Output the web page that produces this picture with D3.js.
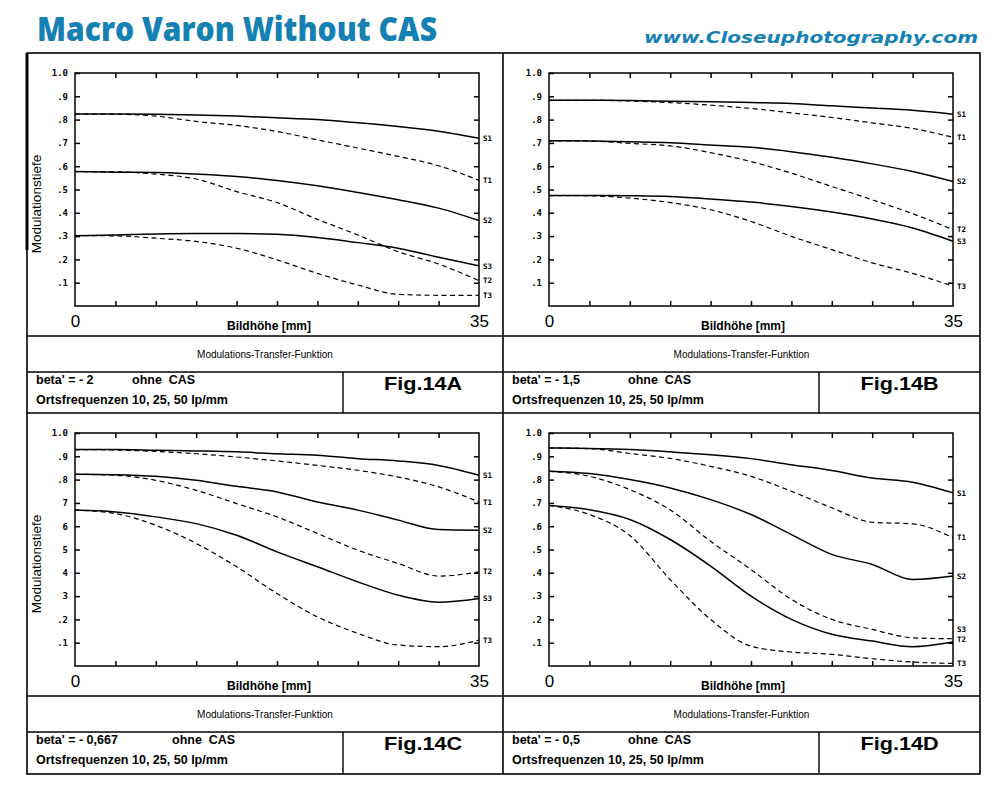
<!DOCTYPE html>
<html>
<head>
<meta charset="utf-8">
<script src="https://cdn.jsdelivr.net/npm/d3@7"></script>
<style>
body { margin: 0; background: #fff; }
svg text { font-family: "Liberation Sans", Arial, sans-serif; fill: #000; }
</style>
</head>
<body>
<svg id="chart" width="1000" height="790"></svg>
<script>
// image height in mm, one reading every 3.5 mm
var distances = [0, 3.5, 7, 10.5, 14, 17.5, 21, 24.5, 28, 31.5, 35];
var seriesNames = ["S1", "T1", "S2", "T2", "S3", "T3"];
var figNames = ["Fig.14A", "Fig.14B", "Fig.14C", "Fig.14D"];
var betaTexts = ["beta' = - 2", "beta' = - 1,5", "beta' = - 0,667", "beta' = - 0,5"];
var casText = "ohne  CAS";
var freqText = "Ortsfrequenzen 10, 25, 50 lp/mm";
var yTickValues = [1.0, 0.9, 0.8, 0.7, 0.6, 0.5, 0.4, 0.3, 0.2, 0.1];
var yTickLabelsA = ["1.0", ".9", ".8", ".7", ".6", ".5", ".4", ".3", ".2", ".1"];
var yTickLabelsB = ["1.0", ".9", ".8", ".7", ".6", ".5", ".4", ".3", ".2", ".1"];
var yTickLabelsC = ["1.0", ".9", ".8", "7", "6", "5", "4", "3", ".2", ".1"];
var yTickLabelsD = ["1.0", ".9", ".8", ".7", ".6", ".5", ".4", ".3", ".2", ".1"];

// rows in order S1, T1, S2, T2, S3, T3
var mtf14A = [
	[0.824, 0.824, 0.823, 0.820, 0.815, 0.808, 0.800, 0.786, 0.770, 0.750, 0.720],
	[0.824, 0.823, 0.815, 0.792, 0.775, 0.749, 0.713, 0.678, 0.642, 0.602, 0.539],
	[0.577, 0.574, 0.573, 0.566, 0.556, 0.539, 0.516, 0.487, 0.456, 0.420, 0.367],
	[0.577, 0.576, 0.566, 0.545, 0.491, 0.444, 0.372, 0.305, 0.233, 0.180, 0.109],
	[0.302, 0.305, 0.309, 0.311, 0.311, 0.308, 0.294, 0.272, 0.248, 0.209, 0.172],
	[0.302, 0.301, 0.291, 0.277, 0.248, 0.198, 0.140, 0.090, 0.050, 0.046, 0.046]
];
var mtf14B = [
	[0.883, 0.883, 0.882, 0.879, 0.877, 0.873, 0.869, 0.859, 0.850, 0.840, 0.823],
	[0.883, 0.883, 0.880, 0.873, 0.862, 0.848, 0.829, 0.809, 0.786, 0.762, 0.724],
	[0.709, 0.708, 0.705, 0.701, 0.691, 0.681, 0.662, 0.638, 0.610, 0.577, 0.534],
	[0.709, 0.708, 0.698, 0.687, 0.658, 0.620, 0.570, 0.513, 0.456, 0.396, 0.328],
	[0.474, 0.474, 0.473, 0.470, 0.459, 0.446, 0.427, 0.403, 0.373, 0.335, 0.278],
	[0.474, 0.473, 0.463, 0.444, 0.413, 0.363, 0.299, 0.242, 0.185, 0.140, 0.085]
];
var mtf14C = [
	[0.929, 0.929, 0.926, 0.923, 0.919, 0.911, 0.904, 0.890, 0.880, 0.861, 0.819],
	[0.929, 0.927, 0.921, 0.911, 0.897, 0.880, 0.861, 0.840, 0.811, 0.769, 0.704],
	[0.823, 0.821, 0.814, 0.797, 0.771, 0.747, 0.704, 0.669, 0.626, 0.586, 0.583],
	[0.823, 0.819, 0.797, 0.754, 0.697, 0.640, 0.569, 0.497, 0.440, 0.386, 0.404],
	[0.669, 0.661, 0.640, 0.611, 0.561, 0.490, 0.426, 0.361, 0.304, 0.274, 0.290],
	[0.669, 0.654, 0.604, 0.526, 0.426, 0.311, 0.211, 0.140, 0.090, 0.083, 0.111]
];
var mtf14D = [
	[0.936, 0.934, 0.929, 0.919, 0.907, 0.890, 0.864, 0.839, 0.807, 0.789, 0.743],
	[0.936, 0.933, 0.912, 0.891, 0.857, 0.814, 0.750, 0.679, 0.617, 0.610, 0.550],
	[0.836, 0.826, 0.800, 0.764, 0.714, 0.650, 0.564, 0.479, 0.436, 0.371, 0.386],
	[0.836, 0.814, 0.757, 0.670, 0.535, 0.414, 0.286, 0.200, 0.157, 0.121, 0.117],
	[0.689, 0.671, 0.629, 0.543, 0.429, 0.300, 0.200, 0.136, 0.107, 0.083, 0.103],
	[0.689, 0.650, 0.560, 0.371, 0.200, 0.085, 0.060, 0.050, 0.031, 0.017, 0.011]
];

var panelData = [mtf14A, mtf14B, mtf14C, mtf14D];
var panelTicks = [yTickLabelsA, yTickLabelsB, yTickLabelsC, yTickLabelsD];

// layout
var panelX = [27, 503, 27, 503];
var panelY = [53, 53, 413, 413];
var panelW = [476, 477, 476, 477];
var casX = [105, 125, 145, 125];
var blue = "#1580b2";

var svg = d3.select("#chart");

svg.append("text")
	.attr("x", 37).attr("y", 41)
	.attr("textLength", 400).attr("lengthAdjust", "spacingAndGlyphs")
	.style("font-family", "'Open Sans', sans-serif")
	.style("font-weight", "800").style("font-size", "33px")
	.style("fill", blue)
	.text("Macro Varon Without CAS");

svg.append("text")
	.attr("x", 644).attr("y", 43)
	.attr("textLength", 334).attr("lengthAdjust", "spacingAndGlyphs")
	.style("font-family", "'DejaVu Sans', sans-serif")
	.style("font-weight", "700").style("font-style", "italic").style("font-size", "15px")
	.style("fill", blue)
	.text("www.Closeuphotography.com");

// outer grid of the four figures
svg.append("rect")
	.attr("x", 27).attr("y", 53).attr("width", 953).attr("height", 721)
	.attr("fill", "none").attr("stroke", "#000").attr("stroke-width", 1.6);
svg.append("line").attr("x1", 27).attr("x2", 27).attr("y1", 53).attr("y2", 250)
	.attr("stroke", "#000").attr("stroke-width", 3);
svg.append("line").attr("x1", 503).attr("x2", 503).attr("y1", 53).attr("y2", 774)
	.attr("stroke", "#000").attr("stroke-width", 1.6);
svg.append("line").attr("x1", 27).attr("x2", 980).attr("y1", 413).attr("y2", 413)
	.attr("stroke", "#000").attr("stroke-width", 1.6);

function drawPanel(i){
	var px = panelX[i], py = panelY[i], pw = panelW[i];
	var left = i % 2 == 0 ? px + 48 : px + 46;
	var right = left + 404;
	var top = py + 20, bottom = py + 253;

	var x = d3.scaleLinear().domain([0, 35]).range([left, right]);
	var y = d3.scaleLinear().domain([0, 1]).range([bottom, top]);
	var g = svg.append("g");

	// table rows below the plot
	g.append("line").attr("x1", px).attr("x2", px + pw).attr("y1", py + 283).attr("y2", py + 283)
		.attr("stroke", "#000").attr("stroke-width", 1.4);
	g.append("line").attr("x1", px).attr("x2", px + pw).attr("y1", py + 319).attr("y2", py + 319)
		.attr("stroke", "#000").attr("stroke-width", 1.4);
	g.append("line").attr("x1", px + 316).attr("x2", px + 316).attr("y1", py + 319).attr("y2", py + 360)
		.attr("stroke", "#000").attr("stroke-width", 1.4);

	g.append("text")
		.attr("x", px + pw / 2).attr("y", py + 305)
		.attr("text-anchor", "middle").style("font-size", "10px")
		.text("Modulations-Transfer-Funktion");
	g.append("text")
		.attr("x", px + 9).attr("y", py + 331)
		.style("font-size", "12.5px").style("font-weight", "700")
		.text(betaTexts[i]);
	g.append("text")
		.attr("x", px + casX[i]).attr("y", py + 331)
		.style("font-size", "12.5px").style("font-weight", "700")
		.style("white-space", "pre")
		.text(casText);
	g.append("text")
		.attr("x", px + 9).attr("y", py + 351)
		.attr("textLength", 192).attr("lengthAdjust", "spacingAndGlyphs")
		.style("font-size", "12.5px").style("font-weight", "700")
		.text(freqText);
	g.append("text")
		.attr("x", px + 316 + (pw - 316) / 2).attr("y", py + 337)
		.attr("text-anchor", "middle")
		.attr("textLength", 78).attr("lengthAdjust", "spacingAndGlyphs")
		.style("font-size", "18px").style("font-weight", "700")
		.text(figNames[i]);

	// inward ticks on all sides
	var xTicks = d3.range(1, 10).map(function(k){ return k * 3.5; });
	var tickers = [
		[d3.axisBottom(x).tickValues(xTicks), "translate(0," + bottom + ")"],
		[d3.axisTop(x).tickValues(xTicks), "translate(0," + top + ")"],
		[d3.axisRight(y).tickValues(yTickValues.slice(1)), "translate(" + right + ",0)"]
	];
	tickers.forEach(function(t){
		var a = g.append("g").attr("transform", t[1])
			.call(t[0].tickSize(-5).tickSizeOuter(0).tickFormat(""));
		a.select(".domain").remove();
		a.selectAll("line").attr("stroke", "#000").attr("stroke-width", 1.5);
	});

	var labels = panelTicks[i];
	var yAxis = g.append("g").attr("transform", "translate(" + left + ",0)")
		.call(d3.axisLeft(y).tickValues(yTickValues).tickSize(-5).tickSizeOuter(0).tickPadding(7)
			.tickFormat(function(d, k){ return labels[k]; }));
	yAxis.select(".domain").remove();
	yAxis.selectAll("line").attr("stroke", "#000").attr("stroke-width", 1.5);
	yAxis.selectAll("text")
		.attr("font-family", null)
		.style("font-family", "'DejaVu Sans Mono', monospace")
		.style("font-size", "9px").style("font-weight", "700");

	var xAxis = g.append("g").attr("transform", "translate(0," + bottom + ")")
		.call(d3.axisBottom(x).tickValues([0, 35]).tickSize(0).tickPadding(9));
	xAxis.select(".domain").remove();
	xAxis.selectAll("text").attr("font-family", null).style("font-size", "17px");

	g.append("rect")
		.attr("x", left).attr("y", top).attr("width", right - left).attr("height", bottom - top)
		.attr("fill", "none").attr("stroke", "#000").attr("stroke-width", 1.5);

	g.append("text")
		.attr("x", (left + right) / 2 - 8).attr("y", bottom + 24)
		.attr("text-anchor", "middle")
		.style("font-size", "12px").style("font-weight", "700")
		.text("Bildhöhe [mm]");

	if(i % 2 == 0){
		g.append("text")
			.attr("transform", "translate(" + (px + 14) + "," + (top + 131) + ") rotate(-90)")
			.attr("text-anchor", "middle")
			.style("font-size", "13.5px")
			.text("Modulationstiefe");
	}

	var line = d3.line()
		.x(function(d, k){ return x(distances[k]); })
		.y(function(d){ return y(d); })
		.curve(d3.curveMonotoneX);

	var data = panelData[i];
	for (var s = 0; s < data.length; s++) {
		var dashed = seriesNames[s].charAt(0) == "T";
		g.append("path")
			.datum(data[s])
			.attr("d", line)
			.attr("fill", "none")
			.attr("stroke", "#000")
			.attr("stroke-width", dashed ? 1.2 : 1.5)
			.attr("stroke-dasharray", dashed ? "5,3.5" : null);

		// in Fig.14D the S3 and T2 ends meet; stack the two labels
		var nudge = 0;
		if (i == 3 && seriesNames[s] == "S3") nudge = -13;
		if (i == 3 && seriesNames[s] == "T2") nudge = 1;
		g.append("text")
			.attr("x", right + 4)
			.attr("y", y(data[s][data[s].length - 1]) + nudge)
			.attr("dy", "0.35em")
			.style("font-family", "'DejaVu Sans Mono', monospace")
			.style("font-size", "7.5px").style("font-weight", "700")
			.text(seriesNames[s]);
	}
}

for (var i = 0; i < 4; i++) {
	drawPanel(i);
}
</script>
</body>
</html>
